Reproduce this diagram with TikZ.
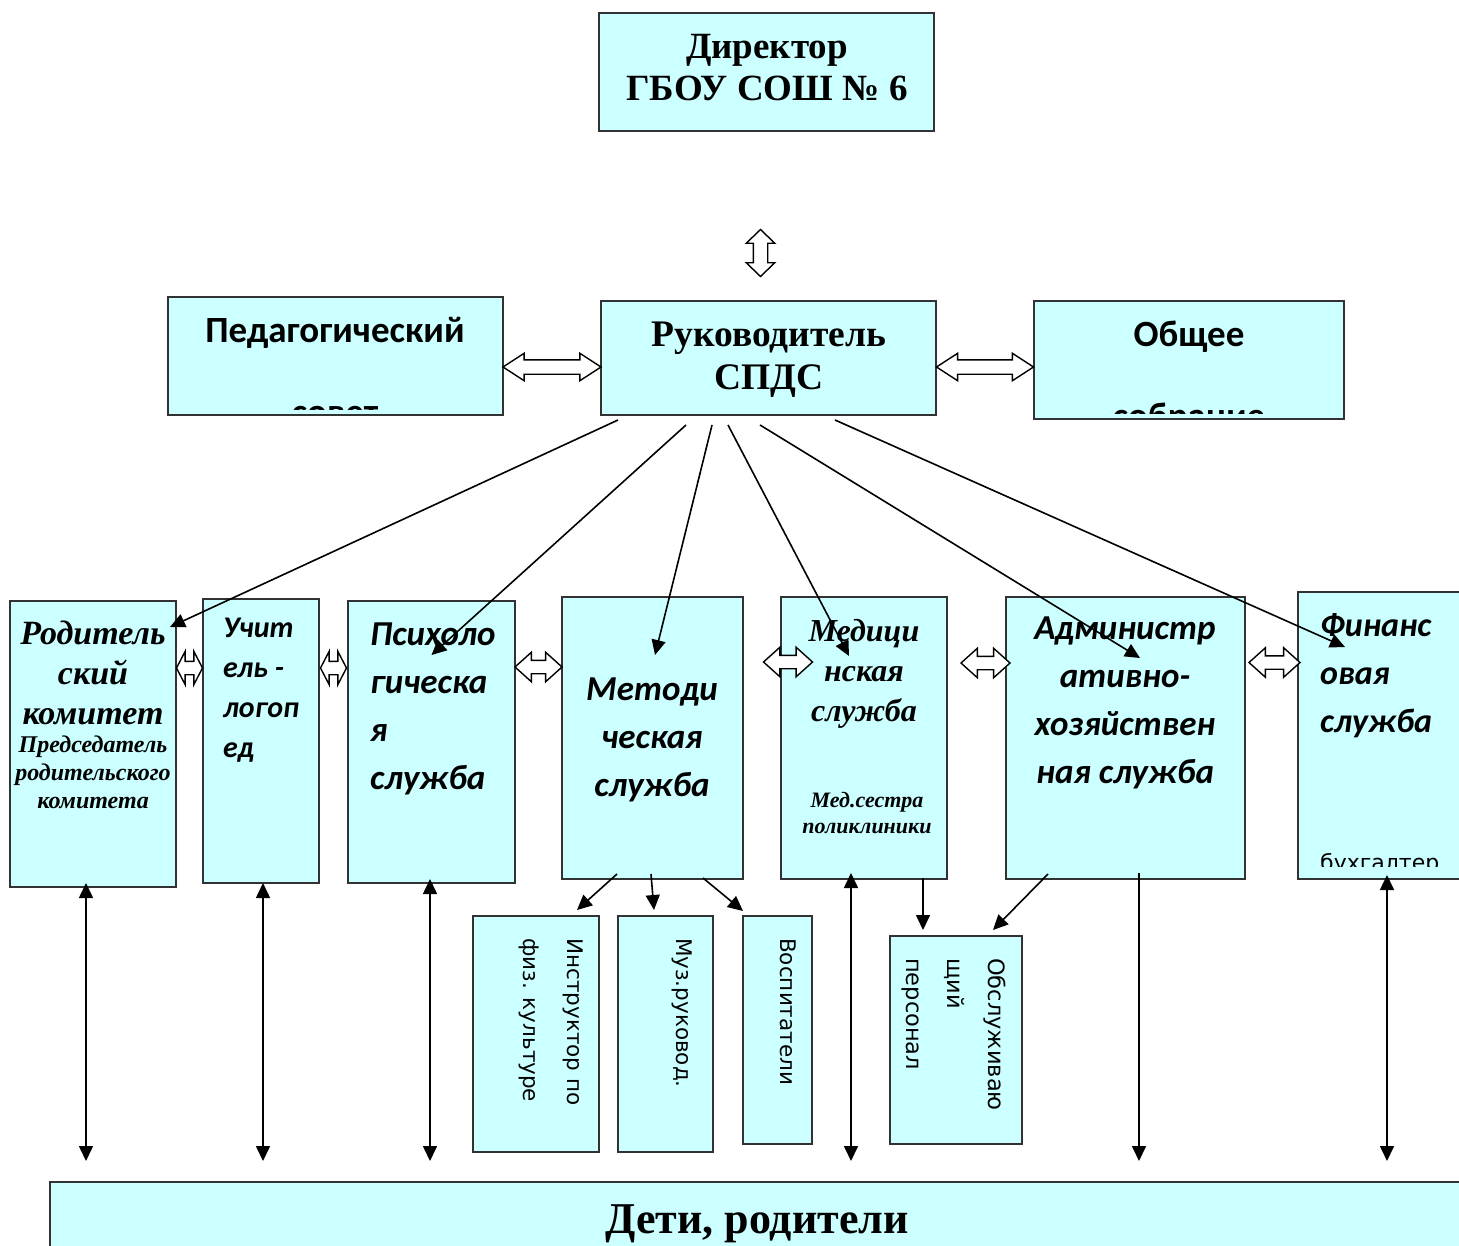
\documentclass[tikz,border=0pt]{standalone}
\usepackage{fontspec}
\setmainfont{Liberation Serif}
\newfontfamily\sansb{Carlito}
\newfontfamily\dejavu{DejaVu Sans}
\usetikzlibrary{arrows.meta,shapes.arrows,calc}
\definecolor{boxcyan}{RGB}{204,255,255}
\definecolor{boxline}{RGB}{50,50,50}

\begin{document}
\begin{tikzpicture}[x=1pt,y=-1pt,
  box/.style={draw=boxline,line width=1.5pt,fill=boxcyan,anchor=north west,
    inner sep=0pt,outer sep=0pt},
  txt/.style={inner sep=0pt,align=center,anchor=north},
  ltxt/.style={inner sep=0pt,align=left,anchor=north west},
  vtxt/.style={inner sep=0pt,align=left,anchor=north west,rotate=-90},
  arr/.style={-{Triangle[length=15pt,width=14pt]},line width=1.6pt},
  both/.style={{Triangle[length=15pt,width=14pt]}-{Triangle[length=15pt,width=14pt]},line width=1.6pt},
  dbl/.style={double arrow,draw,line width=1.4pt,fill=white,inner xsep=0pt,inner ysep=6pt,
    double arrow head extend=8pt,double arrow tip angle=84},
  wdbl/.style={dbl,inner ysep=6.5pt,double arrow head extend=6.5pt,double arrow tip angle=66},
  sdbl/.style={dbl,inner ysep=6pt,double arrow head extend=10pt,double arrow tip angle=125}]

  \useasboundingbox (0,0) rectangle (1459,1245);

  % top level
  \node[box,minimum width=335pt,minimum height=118pt] (dir) at (599,13) {};
  \node[box,minimum width=335pt,minimum height=118pt] (ped) at (168,297) {};
  \node[box,minimum width=335pt,minimum height=114pt] (ruk) at (601,301) {};
  \node[box,minimum width=310pt,minimum height=118pt] (obs) at (1034,301) {};

  \node[txt,font=\fontsize{37}{42}\selectfont\bfseries] (dir-t) at (767,34) {Директор\\ГБОУ СОШ № 6};
  \node[txt,font=\fontsize{37.5}{43}\selectfont\bfseries] (ruk-t) at (769,322) {Руководитель\\СПДС};
  \node[txt,font=\sansb\fontsize{37}{40}\selectfont\bfseries] (ped-t) at (335,317) {Педагогический};
  \node[txt,font=\sansb\fontsize{37}{40}\selectfont\bfseries] (obs-t) at (1189,321) {Общее};
  \begin{scope}
    \clip (ped.north west) rectangle ([yshift=6pt]ped.south east);
    \node[txt,anchor=base,font=\sansb\fontsize{37}{40}\selectfont\bfseries] (ped-t2) at (335,424) {совет};
  \end{scope}
  \begin{scope}
    \clip (obs.north west) rectangle ([yshift=6pt]obs.south east);
    \node[txt,anchor=base,font=\sansb\fontsize{37}{40}\selectfont\bfseries] (obs-t2) at (1189,428) {собрание};
  \end{scope}

  % services row
  \node[box,minimum width=166pt,minimum height=286pt] (rod) at (10,601) {};
  \node[box,minimum width=116pt,minimum height=284pt] (uch) at (203,599) {};
  \node[box,minimum width=167pt,minimum height=282pt] (psy) at (348,601) {};
  \node[box,minimum width=181pt,minimum height=282pt] (met) at (562,597) {};
  \node[box,minimum width=166pt,minimum height=282pt] (med) at (781,597) {};
  \node[box,minimum width=239pt,minimum height=282pt] (adm) at (1006,597) {};
  \node[box,minimum width=175pt,minimum height=287pt] (fin) at (1298,592) {};

  \node[txt,font=\fontsize{34}{40}\selectfont\bfseries\itshape] (rod-t) at (93,621) {Родитель\\ский\\комитет};
  \node[txt,font=\fontsize{24}{28}\selectfont\bfseries\itshape] (rod-t2) at (93,736) {Председатель\\родительского\\комитета};
  \node[ltxt,font=\sansb\fontsize{30}{40}\selectfont\bfseries\itshape] (uch-t) at (223,618) {Учит\\ель -\\логоп\\ед};
  \node[ltxt,font=\sansb\fontsize{35}{48}\selectfont\bfseries\itshape] (psy-t) at (370,623) {Психоло\\гическа\\я\\служба};
  \node[txt,font=\sansb\fontsize{35}{48}\selectfont\bfseries\itshape] (met-t) at (652,678) {Методи\\ческая\\служба};
  \node[txt,font=\fontsize{32}{40}\selectfont\bfseries\itshape] (med-t) at (864,619) {Медици\\нская\\служба};
  \node[txt,font=\fontsize{22}{26}\selectfont\bfseries\itshape] (med-t2) at (867,792) {Мед.сестра\\поликлиники};
  \node[txt,font=\sansb\fontsize{35}{48}\selectfont\bfseries\itshape] (adm-t) at (1125,617) {Администр\\ативно-\\хозяйствен\\ная служба};
  \node[ltxt,font=\sansb\fontsize{34}{48}\selectfont\bfseries\itshape] (fin-t) at (1320,613) {Финанс\\овая\\служба};
  \begin{scope}
    \clip (fin.north west) rectangle (1459,866);
    \node[ltxt,anchor=base west,font=\dejavu\fontsize{22}{26}\selectfont] (fin-t2) at (1320,870) {бухгалтер};
  \end{scope}

  % staff boxes
  \node[box,minimum width=126pt,minimum height=236pt] (ins) at (473,916) {};
  \node[box,minimum width=95pt,minimum height=236pt] (muz) at (618,916) {};
  \node[box,minimum width=69pt,minimum height=228pt] (vos) at (743,916) {};
  \node[box,minimum width=132pt,minimum height=208pt] (obsl) at (890,936) {};

  \node[vtxt,font=\dejavu\fontsize{21.5}{44}\selectfont] (ins-t) at (583,938) {Инструктор по\\физ. культуре};
  \node[vtxt,font=\dejavu\fontsize{21.5}{43}\selectfont] (muz-t) at (692,938) {Муз.руковод.};
  \node[vtxt,font=\dejavu\fontsize{21.5}{43}\selectfont] (vos-t) at (796,938) {Воспитатели};
  \node[vtxt,font=\dejavu\fontsize{22.5}{41}\selectfont] (obsl-t) at (1006,958) {Обслуживаю\\щий\\персонал};

  \node[box,minimum width=1420pt,minimum height=80pt] (deti) at (50,1182) {};
  \node[txt,font=\fontsize{44}{50}\selectfont\bfseries] (deti-t) at (757,1204) {Дети, родители};

  % double arrows
  \node[dbl,minimum height=47pt,inner ysep=6.5pt,double arrow head extend=7pt,double arrow tip angle=92,rotate=90] (d0) at ($(dir.south)!.5!(ruk.north)+(-7,37)$) {};
  \node[wdbl,minimum height=98pt,yshift=-10pt] (d1) at ($(ped.east)!.5!(ruk.west)$) {};
  \node[wdbl,minimum height=97pt,yshift=-8pt] (d2) at ($(ruk.east)!.5!(obs.west)$) {};
  \node[sdbl,minimum height=26pt,yshift=-68pt] (d3) at ($(rod.north east)!.5!(uch.north west)$) {};
  \node[sdbl,minimum height=26pt,yshift=-68pt] (d4) at ($(uch.north east)!.5!(psy.north west)$) {};
  \node[dbl,minimum height=47pt,yshift=-68pt] (d5) at ($(psy.north east)!.5!(met.north west)$) {};
  \node[dbl,minimum height=49pt,yshift=-65pt] (d6) at ($(met.north east)!.5!(med.north west)+(26,0)$) {};
  \node[dbl,minimum height=49pt,yshift=-66pt] (d7) at ($(med.north east)!.5!(adm.north west)+(9,0)$) {};
  \node[dbl,minimum height=51pt,yshift=-68pt] (d8) at ($(adm.north east)!.5!(fin.north west)+(3,0)$) {};

  % from the head to the services
  \draw[arr] ([xshift=17pt,yshift=-5pt]ruk.south west) -- ([xshift=-6pt,yshift=-26pt]rod.north east);
  \draw[arr] ([xshift=85pt,yshift=-10pt]ruk.south west) -- ([yshift=-54pt]psy.north);
  \draw[arr] ([xshift=111pt,yshift=-10pt]ruk.south west) -- ([xshift=2.5pt,yshift=-58pt]met.north);
  \draw[arr] ([xshift=127pt,yshift=-10pt]ruk.south west) -- ([xshift=-15pt,yshift=-59pt]med.north);
  \draw[arr] ([xshift=159pt,yshift=-10pt]ruk.south west) -- ([xshift=14.5pt,yshift=-61pt]adm.north);
  \draw[arr] ([xshift=234pt,yshift=-5pt]ruk.south west) -- ([xshift=47pt,yshift=-55pt]fin.north west);

  % to the staff
  \draw[arr] ([xshift=-35.5pt,yshift=5pt]met.south) -- ([xshift=-22pt,yshift=6pt]ins.north east);
  \draw[arr] ([xshift=-1.5pt,yshift=5pt]met.south) -- ([xshift=-11.5pt,yshift=6pt]muz.north);
  \draw[arr] ([xshift=50.5pt,yshift=1pt]met.south) -- ([yshift=5pt]vos.north west);
  \draw[arr] ([xshift=59pt,yshift=1pt]med.south) -- ([xshift=33pt,yshift=6pt]obsl.north west);
  \draw[arr] ([xshift=42pt,yshift=5pt]adm.south west) -- ([xshift=-29pt,yshift=6pt]obsl.north east);

  % down to children and parents
  \draw[both] ([xshift=-7pt,yshift=4pt]rod.south) -- ([xshift=-7pt,yshift=21pt]rod.south |- deti.north);
  \draw[both] ([xshift=2pt]uch.south) -- ([xshift=2pt,yshift=21pt]uch.south |- deti.north);
  \draw[both] ([xshift=-1.5pt,yshift=4pt]psy.south) -- ([xshift=-1.5pt,yshift=21pt]psy.south |- deti.north);
  \draw[both] ([xshift=-13pt,yshift=6pt]med.south) -- ([xshift=-13pt,yshift=21pt]med.south |- deti.north);
  \draw[arr] ([xshift=13.5pt,yshift=6pt]adm.south) -- ([xshift=13.5pt,yshift=21pt]adm.south |- deti.north);
  \draw[both] ([xshift=89pt,yshift=4pt]fin.south west) -- ([xshift=89pt,yshift=21pt]fin.south west |- deti.north);

\end{tikzpicture}
\end{document}
